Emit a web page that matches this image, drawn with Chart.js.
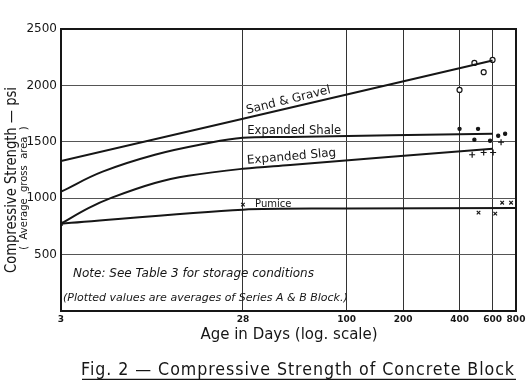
<!DOCTYPE html>
<html>
<head>
<meta charset="utf-8">
<script src="https://cdn.jsdelivr.net/npm/chart.js@4.4.0/dist/chart.umd.min.js"></script>
<style>
  html, body { margin: 0; padding: 0; background: #fff; }
  #wrap { width: 532px; height: 380px; }
</style>
</head>
<body>
<div id="wrap"><canvas id="chartCanvas" width="532" height="380"></canvas></div>
<script>
// x 轴刻度（天数，对数）
const ageTicks = [3, 28, 100, 200, 400, 600, 800]

// 拟合曲线
const sandAge = [3, 28, 600]
const sandPsi = [1330, 1704, 2220]
const shaleAge = [3, 5, 9.5, 17.5, 28, 50, 600]
const shalePsi = [1058, 1235, 1385, 1482, 1535, 1543, 1571]
const slagAge = [3, 4.2, 5.6, 9.5, 14.3, 28, 50, 600]
const slagPsi = [774, 912, 1005, 1135, 1199, 1261, 1295, 1438]
const pumiceAge = [3, 28, 100, 800]
const pumicePsi = [774, 898, 908, 914]

// 试验点
const sandPtAge = [400, 480, 538, 600]
const sandPtPsi = [1960, 2199, 2117, 2226]
const shalePtAge = [400, 502, 480, 582, 643, 700]
const shalePtPsi = [1615, 1615, 1518, 1509, 1553, 1571]
const slagPtAge = [467, 538, 604, 666]
const slagPtPsi = [1385, 1405, 1405, 1497]
const pumicePtAge = [3, 28, 505, 620, 675, 753]
const pumicePtPsi = [774, 943, 872, 863, 960, 960]

const curveNames = ['Sand & Gravel', 'Expanded Shale', 'Expanded Slag', 'Pumice']

const pts = (xs, ys) => xs.map((x, i) => ({ x: x, y: ys[i] }))
const ink = '#161616'

function curve(name, xs, ys, tension) {
    return {
        label: name,
        data: pts(xs, ys),
        showLine: true,
        borderColor: ink,
        borderWidth: 2,
        pointRadius: 0,
        tension: tension
    }
}

function marks(name, xs, ys, style, r, fill) {
    return {
        label: name,
        data: pts(xs, ys),
        showLine: false,
        pointStyle: style,
        pointRadius: r,
        pointBorderWidth: 1.2,
        borderColor: ink,
        backgroundColor: fill
    }
}

// 曲线名称、注释、坐标轴标题
const paperText = {
    id: 'paperText',
    afterDraw(chart) {
        const ctx = chart.ctx
        const a = chart.chartArea
        const sx = chart.scales.x
        const sy = chart.scales.y
        ctx.save()

        ctx.strokeStyle = ink
        ctx.lineWidth = 2
        ctx.strokeRect(a.left, a.top, a.right - a.left, a.bottom - a.top)

        ctx.fillStyle = ink
        ctx.textBaseline = 'alphabetic'
        ctx.textAlign = 'left'

        const labelAge = [29.5, 29.5, 29.5, 32.5]
        const labelPsi = [1748, 1571, 1305, 925]
        const labelTilt = [-14, 0, -5, 0]
        const labelSize = [12, 12, 12, 10]
        curveNames.forEach((name, i) => {
            ctx.save()
            ctx.translate(sx.getPixelForValue(labelAge[i]), sy.getPixelForValue(labelPsi[i]))
            ctx.rotate(labelTilt[i] * Math.PI / 180)
            ctx.font = labelSize[i] + 'px "DejaVu Sans"'
            ctx.fillText(name, 0, 0, 94)
            ctx.restore()
        })

        ctx.font = 'italic 12px "DejaVu Sans"'
        ctx.fillText('Note: See Table 3 for storage conditions', a.left + 12, a.bottom - 34, 246)
        ctx.font = 'italic 11px "DejaVu Sans"'
        ctx.fillText('(Plotted values are averages of Series A & B Block.)', a.left + 2, a.bottom - 10, 316)

        ctx.textAlign = 'center'
        ctx.font = '15px "DejaVu Sans"'
        ctx.fillText('Age in Days (log. scale)', 289, 339, 192)

        ctx.font = '17px "DejaVu Sans"'
        ctx.letterSpacing = '1px'
        const cap = 'Fig. 2 \u2014 Compressive Strength of Concrete Block'
        ctx.fillText(cap, 298, 375, 434)
        ctx.letterSpacing = '0px'
        ctx.lineWidth = 1.5
        ctx.beginPath()
        ctx.moveTo(82, 379.5)
        ctx.lineTo(516, 379.5)
        ctx.stroke()

        ctx.save()
        ctx.translate(16, 180)
        ctx.rotate(-Math.PI / 2)
        ctx.font = '15px "DejaVu Sans"'
        ctx.fillText('Compressive Strength \u2014 psi', 0, 0, 186)
        ctx.font = '10px "DejaVu Sans"'
        ctx.fillText('(  Average  gross  area  )', -8, 11)
        ctx.restore()

        ctx.restore()
    }
}

const ctx = document.getElementById('chartCanvas').getContext('2d')
new Chart(ctx, {
    type: 'scatter',
    data: {
        datasets: [
            curve(curveNames[0], sandAge, sandPsi, 0),
            curve(curveNames[1], shaleAge, shalePsi, 0.4),
            curve(curveNames[2], slagAge, slagPsi, 0.4),
            curve(curveNames[3], pumiceAge, pumicePsi, 0.3),
            marks('sand pts', sandPtAge, sandPtPsi, 'circle', 2.5, '#fff'),
            marks('shale pts', shalePtAge, shalePtPsi, 'circle', 1.6, ink),
            marks('slag pts', slagPtAge, slagPtPsi, 'cross', 3, ink),
            marks('pumice pts', pumicePtAge, pumicePtPsi, 'crossRot', 2.5, ink)
        ]
    },
    options: {
        responsive: false,
        animation: false,
        layout: { padding: { left: 0, top: 29, right: 16, bottom: 0 } },
        plugins: {
            legend: { display: false },
            tooltip: { enabled: false }
        },
        scales: {
            x: {
                type: 'logarithmic',
                min: 3,
                max: 800,
                afterBuildTicks: scale => {
                    scale.ticks = ageTicks.map(v => ({ value: v }))
                },
                afterFit: scale => { scale.height = 69 },
                border: { display: false },
                grid: { color: '#333', lineWidth: 1, drawTicks: false },
                ticks: {
                    autoSkip: false,
                    maxRotation: 0,
                    padding: 3,
                    color: ink,
                    font: { family: 'DejaVu Sans', size: 9, weight: 'bold' },
                    callback: v => String(v)
                }
            },
            y: {
                min: 0,
                max: 2500,
                afterFit: scale => { scale.width = 61 },
                border: { display: false },
                grid: { color: '#555', lineWidth: 1, drawTicks: false },
                ticks: {
                    stepSize: 500,
                    padding: 4,
                    color: ink,
                    font: { family: 'DejaVu Sans', size: 12 },
                    callback: v => v === 0 ? '' : v
                }
            }
        }
    },
    plugins: [paperText]
})
</script>
</body>
</html>
